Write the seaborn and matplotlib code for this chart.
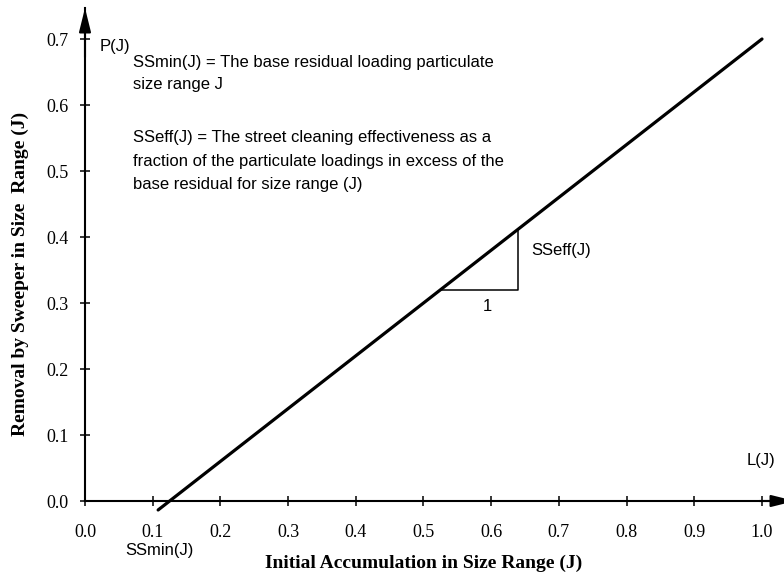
import matplotlib
matplotlib.use("Agg")
import matplotlib.pyplot as plt
import seaborn as sns
import pandas as pd

# Sweeper removal relationship: P(J) = SSeff * (L(J) - SSmin)
accum = [0.108, 1.0]
removal = [-0.0136, 0.7]

# slope triangle (run of 1 -> rise SSeff)
tri_accum = [0.525, 0.64, 0.64]
tri_removal = [0.32, 0.32, 0.412]

x_ticks = [0.0, 0.1, 0.2, 0.3, 0.4, 0.5, 0.6, 0.7, 0.8, 0.9, 1.0]
y_ticks = [0.0, 0.1, 0.2, 0.3, 0.4, 0.5, 0.6, 0.7]

sns.set_style("white")
plt.rcParams["font.family"] = ["Liberation Sans", "DejaVu Sans"]
plt.rcParams["text.color"] = "black"
plt.rcParams["xtick.color"] = "black"
plt.rcParams["ytick.color"] = "black"

W, H = 784, 579
fig = plt.figure(figsize=(W / 100, H / 100), dpi=100)
# axis origin at (85, 501) px; x=1 at 762 px, y=0.7 at 39 px
ax = fig.add_axes([85 / W, (H - 501) / H, 710 / W, 493 / H])

df = pd.DataFrame({"L": accum, "P": removal})
sns.lineplot(data=df, x="L", y="P", ax=ax, color="black", linewidth=2.3,
             clip_on=False, legend=False)
tri = pd.DataFrame({"L": tri_accum, "P": tri_removal})
sns.lineplot(data=tri, x="L", y="P", ax=ax, color="black", linewidth=1.1,
             sort=False, estimator=None, legend=False)

ax.set_xlim(0, 710 / 677)
ax.set_ylim(0, 493 / 660)
ax.set_xticks(x_ticks)
ax.set_yticks(y_ticks)
ax.set_xticklabels([f"{v:.1f}" for v in x_ticks], family="Liberation Serif", fontsize=13)
ax.set_yticklabels([f"{v:.1f}" for v in y_ticks], family="Liberation Serif", fontsize=13)
ax.tick_params(axis="both", direction="inout", length=7.2, width=1.1,
               color="black", bottom=True, left=True)
ax.tick_params(axis="x", pad=13)
ax.tick_params(axis="y", pad=8)
ax.set_xlabel("")
ax.set_ylabel("")

for side in ("top", "right"):
    ax.spines[side].set_visible(False)
for side in ("left", "bottom"):
    ax.spines[side].set_color("black")
    ax.spines[side].set_linewidth(1.5)

# arrow heads at the ends of the axes
head = dict(arrowstyle="-|>,head_length=1.45,head_width=0.36", color="black",
            lw=1.5, mutation_scale=10, shrinkA=0, shrinkB=0)
ax.annotate("", xy=(1.0, 0), xytext=(0.95, 0), xycoords="axes fraction",
            textcoords="axes fraction", arrowprops=head, annotation_clip=False)
ax.annotate("", xy=(0, 1.0), xytext=(0, 0.9), xycoords="axes fraction",
            textcoords="axes fraction", arrowprops=head, annotation_clip=False)

fs = 12
ax.text(0.022, 0.688, "P(J)", fontsize=fs, va="center", ha="left")
ax.text(0.999, 0.062, "L(J)", fontsize=fs, va="center", ha="center")
ax.text(0.110, -0.075, "SSmin(J)", fontsize=fs, va="center", ha="center")
ax.text(0.659, 0.38, "SSeff(J)", fontsize=fs, va="center", ha="left")
ax.text(0.595, 0.294, "1", fontsize=fs, va="center", ha="center")

x0 = 0.071
ax.text(x0, 0.664, "SSmin(J) = The base residual loading particulate", fontsize=fs, va="center")
ax.text(x0, 0.631, "size range J", fontsize=fs, va="center")
ax.text(x0, 0.550, "SSeff(J) = The street cleaning effectiveness as a", fontsize=fs, va="center")
ax.text(x0, 0.515, "fraction of the particulate loadings in excess of the", fontsize=fs, va="center")
ax.text(x0, 0.480, "base residual for size range (J)", fontsize=fs, va="center")

fig.text(424 / W, 1 - 563 / H, "Initial Accumulation in Size Range (J)",
         family="Liberation Serif", fontweight="bold", fontsize=14,
         ha="center", va="center")
fig.text(20 / W, 1 - 274 / H, "Removal by Sweeper in Size  Range (J)",
         family="Liberation Serif", fontweight="bold", fontsize=14,
         ha="center", va="center", rotation=90)

fig.savefig("out.png", dpi=100)
